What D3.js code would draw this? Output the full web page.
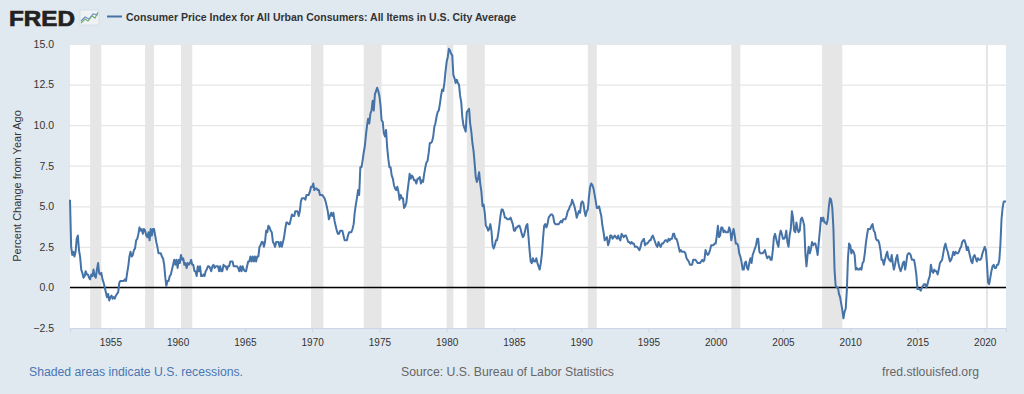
<!DOCTYPE html>
<html>
<head>
<meta charset="utf-8">
<script src="https://cdn.jsdelivr.net/npm/d3@7"></script>
<style>
  body { margin: 0; background: #e1e9f0; font-family: "Liberation Sans", Arial, sans-serif; }
</style>
</head>
<body>
<script>
var width = 1024, height = 394;
var margin = {top: 44, right: 18, bottom: 66, left: 70};

// monthly % change from year ago, starting Jan 1952
var startMonth = new Date(1952, 0, 1);
var cpiChange = [
  5.4, 2.5, 2.0, 2.2, 1.9, 2.2, 3.0, 3.2, 2.3, 1.9, 1.1, 0.9, // 1952
  0.6, 0.7, 1.0, 0.8, 0.8, 0.6, 0.5, 0.8, 0.7, 1.1, 0.7, 0.6, // 1953
  1.1, 1.5, 0.9, 0.8, 0.9, 0.5, 0.3, 0.0, -0.3, -0.6, -0.4, -0.8, // 1954
  -0.6, -0.5, -0.7, -0.6, -0.7, -0.5, -0.4, -0.3, 0.3, 0.4, 0.4, 0.4, // 1955
  0.4, 0.5, 0.4, 0.9, 1.3, 1.9, 2.2, 1.9, 2.0, 2.3, 2.4, 2.9, // 1956
  3.0, 3.3, 3.7, 3.5, 3.6, 3.3, 3.6, 3.5, 3.2, 3.1, 3.4, 2.9, // 1957
  3.6, 3.2, 3.6, 3.6, 3.2, 2.8, 2.5, 2.1, 2.1, 2.1, 1.9, 1.8, // 1958
  1.4, 0.6, 0.1, 0.4, 0.4, 0.7, 0.8, 1.1, 1.4, 1.7, 1.4, 1.7, // 1959
  1.2, 1.7, 1.5, 2.0, 1.7, 1.8, 1.4, 1.5, 1.2, 1.5, 1.4, 1.5, // 1960
  1.7, 1.4, 1.4, 1.0, 1.0, 0.7, 1.3, 1.0, 1.3, 0.7, 0.7, 0.8, // 1961
  0.7, 1.0, 1.1, 1.3, 1.3, 1.2, 1.0, 1.3, 1.4, 1.2, 1.3, 1.3, // 1962
  1.3, 1.0, 1.3, 1.0, 1.0, 1.4, 1.3, 1.3, 1.1, 1.3, 1.3, 1.6, // 1963
  1.6, 1.6, 1.3, 1.3, 1.3, 1.3, 1.2, 1.0, 1.3, 1.0, 1.3, 1.1, // 1964
  1.0, 1.0, 1.3, 1.6, 1.6, 1.9, 1.6, 1.9, 1.6, 1.9, 1.6, 1.9, // 1965
  1.9, 2.5, 2.6, 2.8, 2.8, 2.5, 2.8, 3.5, 3.4, 3.8, 3.7, 3.5, // 1966
  3.4, 2.8, 2.7, 2.5, 2.8, 2.8, 2.8, 2.5, 2.8, 2.5, 2.8, 3.1, // 1967
  3.6, 4.0, 4.0, 3.9, 3.9, 4.2, 4.5, 4.4, 4.4, 4.7, 4.7, 4.7, // 1968
  4.4, 4.7, 5.3, 5.5, 5.5, 5.5, 5.4, 5.7, 5.7, 5.7, 5.9, 6.2, // 1969
  6.2, 6.4, 6.0, 6.1, 6.1, 6.0, 6.0, 5.7, 5.7, 5.7, 5.6, 5.5, // 1970
  5.3, 5.0, 4.7, 4.2, 4.4, 4.6, 4.4, 4.6, 4.1, 3.8, 3.5, 3.3, // 1971
  3.3, 3.5, 3.5, 3.5, 3.2, 2.9, 2.9, 2.9, 3.2, 3.4, 3.4, 3.4, // 1972
  3.6, 3.9, 4.6, 5.1, 5.5, 6.0, 5.7, 7.4, 7.4, 7.8, 8.3, 8.7, // 1973
  9.4, 10.0, 10.4, 10.1, 10.7, 10.9, 11.5, 10.9, 11.9, 12.1, 12.3, 12.1, // 1974
  11.8, 11.2, 10.3, 10.2, 9.5, 9.3, 9.7, 8.6, 7.9, 7.4, 7.4, 6.9, // 1975
  6.7, 6.3, 6.1, 6.0, 6.2, 5.9, 5.4, 5.7, 5.5, 5.5, 4.9, 5.0, // 1976
  5.2, 5.9, 6.4, 7.0, 6.7, 6.9, 6.8, 6.6, 6.6, 6.4, 6.7, 6.7, // 1977
  6.8, 6.4, 6.6, 6.5, 7.0, 7.4, 7.7, 7.8, 8.3, 8.9, 8.9, 9.0, // 1978
  9.3, 9.9, 10.1, 10.5, 10.8, 10.9, 11.3, 11.8, 12.2, 12.1, 12.6, 13.3, // 1979
  13.9, 14.2, 14.7, 14.6, 14.4, 14.3, 13.1, 12.9, 12.6, 12.8, 12.6, 12.5, // 1980
  11.8, 11.4, 10.5, 10.0, 9.8, 9.6, 10.8, 10.9, 11.0, 10.1, 9.6, 8.9, // 1981
  8.4, 7.6, 6.8, 6.5, 6.7, 7.1, 6.4, 5.9, 5.0, 5.1, 4.6, 3.8, // 1982
  3.7, 3.5, 3.6, 3.9, 3.5, 2.6, 2.4, 2.6, 2.9, 2.9, 3.3, 3.8, // 1983
  4.4, 4.8, 4.8, 4.6, 4.3, 4.3, 4.2, 4.2, 4.2, 4.3, 4.1, 3.9, // 1984
  3.5, 3.5, 3.7, 3.7, 3.8, 3.8, 3.6, 3.3, 3.1, 3.2, 3.5, 3.8, // 1985
  3.9, 3.1, 2.3, 1.6, 1.5, 1.8, 1.6, 1.6, 1.8, 1.5, 1.3, 1.1, // 1986
  1.5, 2.1, 3.0, 3.8, 3.9, 3.7, 3.9, 4.3, 4.4, 4.5, 4.5, 4.4, // 1987
  4.0, 3.9, 3.9, 3.9, 3.9, 4.0, 4.1, 4.0, 4.2, 4.2, 4.2, 4.4, // 1988
  4.7, 4.8, 5.0, 5.1, 5.4, 5.2, 5.0, 4.7, 4.3, 4.5, 4.7, 4.6, // 1989
  5.2, 5.3, 5.2, 4.7, 4.4, 4.7, 4.8, 5.6, 6.2, 6.4, 6.3, 6.1, // 1990
  5.7, 5.3, 4.9, 4.9, 5.0, 4.7, 4.4, 3.8, 3.4, 2.9, 3.0, 3.1, // 1991
  2.6, 2.8, 3.2, 3.2, 3.0, 3.1, 3.2, 3.1, 3.0, 3.2, 3.0, 2.9, // 1992
  3.3, 3.2, 3.1, 3.2, 3.2, 3.0, 2.8, 2.8, 2.7, 2.8, 2.7, 2.7, // 1993
  2.5, 2.5, 2.5, 2.4, 2.3, 2.5, 2.8, 2.9, 3.0, 2.6, 2.7, 2.7, // 1994
  2.8, 2.9, 2.9, 3.1, 3.2, 3.0, 2.8, 2.6, 2.5, 2.8, 2.6, 2.5, // 1995
  2.7, 2.7, 2.8, 2.9, 2.9, 2.8, 3.0, 2.9, 3.0, 3.0, 3.3, 3.3, // 1996
  3.0, 3.0, 2.8, 2.5, 2.2, 2.3, 2.2, 2.2, 2.2, 2.1, 1.8, 1.7, // 1997
  1.6, 1.4, 1.4, 1.4, 1.7, 1.7, 1.7, 1.6, 1.5, 1.5, 1.5, 1.6, // 1998
  1.7, 1.6, 1.7, 2.3, 2.1, 2.0, 2.1, 2.3, 2.6, 2.6, 2.6, 2.7, // 1999
  2.7, 3.2, 3.8, 3.1, 3.2, 3.7, 3.7, 3.4, 3.5, 3.4, 3.4, 3.4, // 2000
  3.7, 3.5, 2.9, 3.3, 3.6, 3.2, 2.7, 2.7, 2.6, 2.1, 1.9, 1.6, // 2001
  1.1, 1.1, 1.5, 1.6, 1.2, 1.1, 1.5, 1.8, 1.5, 2.0, 2.2, 2.4, // 2002
  2.6, 3.0, 3.0, 2.2, 2.1, 2.1, 2.1, 2.2, 2.3, 2.0, 1.8, 1.9, // 2003
  1.9, 1.7, 1.7, 2.3, 3.1, 3.3, 3.0, 2.7, 2.5, 3.2, 3.5, 3.3, // 2004
  3.0, 3.0, 3.1, 3.5, 2.8, 2.5, 3.2, 3.6, 4.7, 4.3, 3.5, 3.4, // 2005
  4.0, 3.6, 3.4, 3.5, 4.2, 4.3, 4.1, 3.8, 2.1, 1.3, 2.0, 2.5, // 2006
  2.1, 2.4, 2.8, 2.6, 2.7, 2.7, 2.4, 2.0, 2.8, 3.5, 4.3, 4.1, // 2007
  4.3, 4.0, 4.0, 3.9, 4.2, 5.0, 5.5, 5.4, 4.9, 3.7, 1.1, 0.1, // 2008
  0.0, 0.0, -0.4, -0.6, -1.0, -1.4, -1.9, -1.5, -1.3, -0.2, 1.8, 2.7, // 2009
  2.6, 2.1, 2.3, 2.2, 2.0, 1.1, 1.2, 1.1, 1.1, 1.2, 1.1, 1.5, // 2010
  1.6, 2.1, 2.7, 3.2, 3.6, 3.6, 3.6, 3.8, 3.9, 3.5, 3.4, 3.0, // 2011
  2.9, 2.9, 2.7, 2.3, 1.7, 1.7, 1.4, 1.7, 2.0, 2.2, 1.8, 1.7, // 2012
  1.6, 2.0, 1.5, 1.1, 1.4, 1.8, 2.0, 1.5, 1.2, 1.0, 1.2, 1.5, // 2013
  1.6, 1.1, 1.5, 2.0, 2.1, 2.1, 2.0, 1.7, 1.7, 1.7, 1.3, 0.8, // 2014
  -0.1, -0.1, -0.1, -0.2, 0.0, 0.1, 0.2, 0.2, 0.0, 0.2, 0.5, 0.7, // 2015
  1.4, 1.0, 0.9, 1.1, 1.0, 1.0, 0.8, 1.1, 1.5, 1.6, 1.7, 2.1, // 2016
  2.5, 2.7, 2.4, 2.2, 1.9, 1.6, 1.7, 1.9, 2.2, 2.0, 2.2, 2.1, // 2017
  2.1, 2.2, 2.4, 2.5, 2.8, 2.9, 2.9, 2.7, 2.3, 2.5, 2.2, 1.9, // 2018
  1.6, 1.5, 1.9, 2.0, 1.8, 1.6, 1.8, 1.7, 1.7, 1.8, 2.1, 2.3, // 2019
  2.5, 2.3, 1.5, 0.3, 0.2, 0.6, 1.0, 1.3, 1.4, 1.2, 1.2, 1.4, // 2020
  1.4, 1.7, 2.6, 4.2, 4.9, 5.3, 5.3, 5.3                      // 2021
];

var recessionStarts = ["1953-07", "1957-08", "1960-04", "1969-12", "1973-11", "1980-01", "1981-07", "1990-07", "2001-03", "2007-12", "2020-02"];
var recessionEnds   = ["1954-05", "1958-04", "1961-02", "1970-11", "1975-03", "1980-07", "1982-11", "1991-03", "2001-11", "2009-06", "2020-04"];

var yTicks = [-2.5, 0, 2.5, 5, 7.5, 10, 12.5, 15];
var xTickYears = [1955, 1960, 1965, 1970, 1975, 1980, 1985, 1990, 1995, 2000, 2005, 2010, 2015, 2020];

var seriesTitle = "Consumer Price Index for All Urban Consumers: All Items in U.S. City Average";

var parseMonth = d3.timeParse("%Y-%m");
var data = cpiChange.map(function(v, i) {
  return {date: d3.timeMonth.offset(startMonth, i), value: v};
});

var svg = d3.select("body").append("svg")
    .attr("width", width)
    .attr("height", height)
    .style("display", "block");

svg.append("rect").attr("width", width).attr("height", height).attr("fill", "#e1e9f0");

var x = d3.scaleTime()
    .domain([startMonth, data[data.length - 1].date])
    .range([margin.left, width - margin.right]);

var y = d3.scaleLinear()
    .domain([-2.5, 15])
    .range([height - margin.bottom, margin.top]);

// plot background
svg.append("rect")
   .attr("x", margin.left)
   .attr("y", margin.top)
   .attr("width", width - margin.left - margin.right)
   .attr("height", height - margin.top - margin.bottom)
   .attr("fill", "#fff");

// recession bars
svg.selectAll(".recession")
   .data(recessionStarts.map(function(s, i) { return {s: parseMonth(s), e: parseMonth(recessionEnds[i])}; }))
   .enter()
   .append("rect")
   .attr("class", "recession")
   .attr("x", function(d) { return x(d.s); })
   .attr("y", margin.top)
   .attr("width", function(d) { return Math.max(2, x(d.e) - x(d.s)); })
   .attr("height", height - margin.top - margin.bottom)
   .attr("fill", "#e6e6e6");

// grid
svg.append("g")
   .attr("transform", "translate(" + margin.left + ",0)")
   .call(d3.axisLeft(y).tickValues(yTicks).tickSize(-(width - margin.left - margin.right)).tickFormat(""))
   .call(function(g) { g.select(".domain").remove(); })
   .selectAll("line").attr("stroke", "#e6e6e6").attr("stroke-width", 1.2);

// y labels
svg.append("g")
   .attr("transform", "translate(" + (margin.left - 13) + ",0)")
   .call(d3.axisLeft(y).tickValues(yTicks).tickSize(0).tickFormat(d3.format(".1f")))
   .call(function(g) { g.select(".domain").remove(); })
   .selectAll("text")
   .style("font-family", "Liberation Sans, Arial, sans-serif")
   .style("font-size", "10.5px").attr("fill", "#333");

// x axis
var xAxis = svg.append("g")
   .attr("transform", "translate(0," + (height - margin.bottom) + ")")
   .call(d3.axisBottom(x).tickValues(xTickYears.map(function(yr) { return new Date(yr, 0, 1); }))
         .tickSize(4).tickPadding(7).tickFormat(d3.timeFormat("%Y")));
xAxis.select(".domain").attr("stroke", "#ccd6eb");
xAxis.selectAll("line").attr("stroke", "#ccd6eb");
xAxis.selectAll("text")
   .style("font-family", "Liberation Sans, Arial, sans-serif")
   .style("font-size", "10px").attr("fill", "#333");

// zero line
svg.append("line")
   .attr("x1", margin.left).attr("x2", width - margin.right)
   .attr("y1", y(0)).attr("y2", y(0))
   .attr("stroke", "#000").attr("stroke-width", 1.5);

// series
svg.append("path")
   .datum(data)
   .attr("fill", "none")
   .attr("stroke", "#4572a7")
   .attr("stroke-width", 2)
   .attr("stroke-linejoin", "round")
   .attr("d", d3.line().x(function(d) { return x(d.date); }).y(function(d) { return y(d.value); }));

// y title
svg.append("text")
   .attr("transform", "translate(20.5," + ((margin.top + height - margin.bottom) / 2) + ") rotate(-90)")
   .attr("text-anchor", "middle")
   .style("font-size", "11px")
   .attr("fill", "#333")
   .text("Percent Change from Year Ago");

// header: logo
svg.append("text")
   .attr("x", 9).attr("y", 26)
   .attr("textLength", 66).attr("lengthAdjust", "spacingAndGlyphs")
   .style("font-size", "22.5px").style("font-weight", "bold")
   .attr("fill", "#222").attr("stroke", "#222").attr("stroke-width", 0.7)
   .text("FRED");
var icon = svg.append("g").attr("transform", "translate(80,10)");
icon.append("rect").attr("width", 19).attr("height", 15).attr("fill", "#eef2f5").attr("stroke", "#c8d2da").attr("stroke-width", 0.5);
icon.append("polyline").attr("points", "1,13 5,9 8,11 12,6 15,8 18,2").attr("fill", "none").attr("stroke", "#7ab06a").attr("stroke-width", 1.2);
icon.append("polyline").attr("points", "1,11 5,7 9,9 13,4 18,5").attr("fill", "none").attr("stroke", "#6f93c8").attr("stroke-width", 1.2);

// header: legend
svg.append("line")
   .attr("x1", 107).attr("x2", 122).attr("y1", 16.5).attr("y2", 16.5)
   .attr("stroke", "#4572a7").attr("stroke-width", 2);
svg.append("text")
   .attr("x", 126).attr("y", 20.5)
   .attr("textLength", 390).attr("lengthAdjust", "spacingAndGlyphs")
   .style("font-size", "10.5px").style("font-weight", "bold")
   .attr("fill", "#333")
   .text(seriesTitle);

// footer
svg.append("text")
   .attr("x", 29).attr("y", 376)
   .attr("textLength", 214).attr("lengthAdjust", "spacingAndGlyphs")
   .style("font-size", "12px")
   .attr("fill", "#4a76b2")
   .text("Shaded areas indicate U.S. recessions.");
svg.append("text")
   .attr("x", 401).attr("y", 376)
   .attr("textLength", 213).attr("lengthAdjust", "spacingAndGlyphs")
   .style("font-size", "12px")
   .attr("fill", "#666")
   .text("Source: U.S. Bureau of Labor Statistics");
svg.append("text")
   .attr("x", 882).attr("y", 376)
   .attr("textLength", 97).attr("lengthAdjust", "spacingAndGlyphs")
   .style("font-size", "12px")
   .attr("fill", "#666")
   .text("fred.stlouisfed.org");
</script>
</body>
</html>
